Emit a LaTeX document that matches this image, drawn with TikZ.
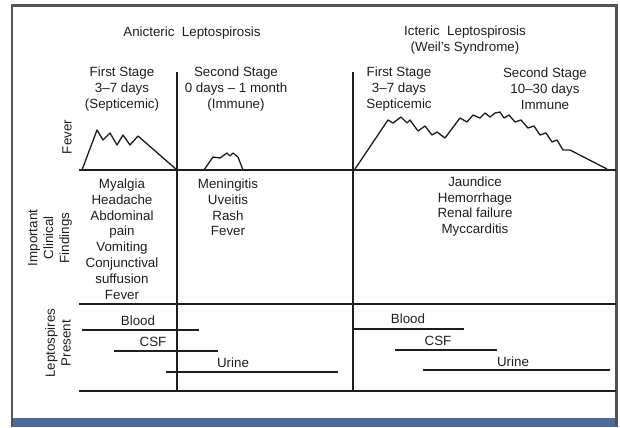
\documentclass[tikz,border=0pt]{standalone}
\usepackage{fontspec}
\setmainfont{Liberation Sans}
\definecolor{barblue}{RGB}{78,106,155}
\definecolor{framegray}{RGB}{85,85,85}
\definecolor{inkgray}{RGB}{30,30,30}
\tikzset{
  lbl/.style={font=\fontsize{7.6}{9}\selectfont, align=center, inner sep=0pt, text=inkgray},
  rowlbl/.style={lbl, rotate=90},
  fevercurve/.style={inkgray, line width=0.75pt, line join=round},
  rule/.style={inkgray, line width=0.6pt},
}

\begin{document}
\begin{tikzpicture}[x=0.02cm,y=-0.02cm]
    \useasboundingbox (0,0) rectangle (620,427);

    % Frame and bottom bar
    \fill[barblue] (13,418) rectangle (616,427);
    \draw[framegray, line width=1.2pt] (12,427) -- (12,5.5) -- (616.5,5.5) -- (616.5,427);

    % Headings
    \node[lbl] (anic) at (192,33) {Anicteric\ \ Leptospirosis};
    \node[lbl] (icter) at (465,40) {Icteric\ \ Leptospirosis\\(Weil's Syndrome)};
    \node[lbl] (anicI) at (122,89) {First Stage\\3--7 days\\(Septicemic)};
    \node[lbl] (anicII) at (236,89) {Second Stage\\0 days -- 1 month\\(Immune)};
    \node[lbl] (icterI) at (399,89) {First Stage\\3--7 days\\Septicemic};
    \node[lbl] (icterII) at (545,89) {Second Stage\\10--30 days\\Immune};

    % Row labels
    \node[rowlbl] (fever) at (67,137) {Fever};
    \node[rowlbl] (clin) at (50,238) {Important\\Clinical\\Findings};
    \node[rowlbl] (lepto) at (58,343) {Leptospires\\Present};

    % Grid
    \draw[rule] (177,72) -- (177,392);
    \draw[rule] (353,72) -- (353,392);
    \draw[rule] (79,170) -- (616,170);
    \draw[rule] (79,304) -- (616,304);
    \draw[rule] (79,391) -- (616,391);

    % Fever curves
    \draw[fevercurve] (82,170) -- (97,130) -- (103,140) -- (110,133) -- (117,145)
        -- (123,135) -- (130,145) -- (138,136) -- (177,170);
    \draw[fevercurve] (204,170) -- (213,157) -- (220,158) -- (227,153) -- (230,156)
        -- (233,153) -- (238,157) -- (243,170);
    \draw[fevercurve] (355,169) -- (388,120) -- (393,123) -- (401,117) -- (407,123)
        -- (410,120) -- (418,131) -- (425,126) -- (432,135) -- (437,132) -- (445,138)
        -- (460,118) -- (467,122) -- (473,115) -- (480,118) -- (485,113) -- (490,117)
        -- (495,113) -- (500,112) -- (504,118) -- (509,115) -- (515,122) -- (521,120)
        -- (528,128) -- (534,126) -- (540,135) -- (546,133) -- (552,142) -- (557,140)
        -- (563,150) -- (570,150) -- (607,169);

    % Clinical findings
    \node[lbl] (findA) at (122,239) {Myalgia\\Headache\\Abdominal\\pain\\Vomiting\\Conjunctival\\suffusion\\Fever};
    \node[lbl] (findB) at (228,207.5) {Meningitis\\Uveitis\\Rash\\Fever};
    \node[lbl] (findC) at (475,206.5) {Jaundice\\Hemorrhage\\Renal failure\\Myccarditis};

    % Leptospires present, anicteric
    \draw[rule] (82,330) -- (199,330);
    \node[lbl] (bloodA) at (138,321) {Blood};
    \draw[rule] (114,351) -- (218,351);
    \node[lbl] (csfA) at (153,342) {CSF};
    \draw[rule] (166,372) -- (338,372);
    \node[lbl] (urineA) at (233,363) {Urine};

    % Leptospires present, icteric
    \draw[rule] (353,329) -- (464,329);
    \node[lbl] (bloodB) at (408,319) {Blood};
    \draw[rule] (395,350) -- (497,350);
    \node[lbl] (csfB) at (438,341) {CSF};
    \draw[rule] (423,370) -- (610,370);
    \node[lbl] (urineB) at (513,362) {Urine};
\end{tikzpicture}
\end{document}
